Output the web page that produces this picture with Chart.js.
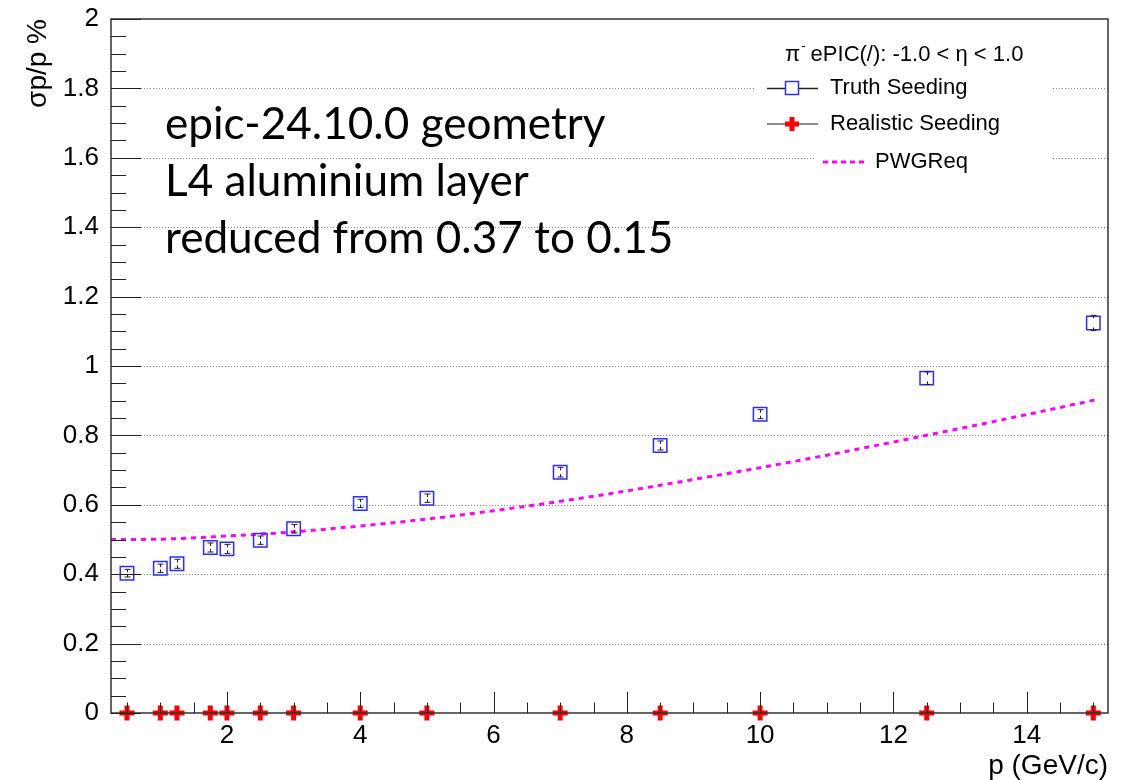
<!DOCTYPE html>
<html>
<head>
<meta charset="utf-8">
<script src="https://cdn.jsdelivr.net/npm/chart.js@4/dist/chart.umd.min.js"></script>
<style>
  html, body { margin: 0; padding: 0; background: #fff; }
  #wrap { width: 1132px; height: 780px; position: relative; }
</style>
</head>
<body>
<div id="wrap"><canvas id="c" width="1132" height="780"></canvas></div>
<script>
// ---------------- data ----------------
const TRUTH_P     = [0.5, 1.0, 1.25, 1.75, 2.0, 2.5, 3.0, 4.0, 5.0, 7.0, 8.5, 10.0, 12.5, 15.0];
const TRUTH_SIGMA = [0.403, 0.417, 0.430, 0.477, 0.473, 0.498, 0.531, 0.604, 0.619, 0.694, 0.771, 0.861, 0.965, 1.124];
const TRUTH_ERR   = [0.011, 0.012, 0.013, 0.013, 0.013, 0.012, 0.012, 0.012, 0.012, 0.014, 0.013, 0.013, 0.018, 0.022];
const REAL_P      = [0.5, 1.0, 1.25, 1.75, 2.0, 2.5, 3.0, 4.0, 5.0, 7.0, 8.5, 10.0, 12.5, 15.0];
const REAL_SIGMA  = [0, 0, 0, 0, 0, 0, 0, 0, 0, 0, 0, 0, 0, 0];
const PWG_P       = [0.26, 1, 2, 3, 4, 5, 6, 7, 8, 9, 10, 11, 12, 13, 14, 15.07];
const PWG_SIGMA   = [0.500, 0.501, 0.510, 0.522, 0.539, 0.559, 0.583, 0.610, 0.640, 0.673, 0.707, 0.743, 0.781, 0.820, 0.860, 0.904];
const X_TICKS     = [2, 4, 6, 8, 10, 12, 14];
const Y_TICKS     = [0, 0.2, 0.4, 0.6, 0.8, 1, 1.2, 1.4, 1.6, 1.8, 2];
const X_RANGE     = [0.26, 15.22];
const Y_RANGE     = [0, 2];
const SERIES_NAMES = ['Truth Seeding', 'Realistic Seeding', 'PWGReq'];
const LEGEND_HEADER = ['π', '-', ' ePIC(/): -1.0 < η < 1.0'];
const NOTE_LINES  = ['epic-24.10.0 geometry', 'L4 aluminium layer', 'reduced from 0.37 to 0.15'];
const X_TITLE = 'p (GeV/c)';
const Y_TITLE = 'σp/p %';

const SANS = '"Liberation Sans", Arial, Helvetica, sans-serif';
const BLUE = '#2d2dff';
const RED = '#ff0000';
const MAGENTA = '#ff00ff';

function pts(xs, ys) { return xs.map((x, i) => ({ x: x, y: ys[i] })); }
function fmt(v) { return String(Math.round(v * 100) / 100); }

// ---------------- plugin: ROOT style frame, ticks, grid, errors, legend, note ----------------
const rootStyle = {
  id: 'rootStyle',
  beforeDatasetsDraw(chart) {
    const { ctx, chartArea: a, scales: { y } } = chart;
    ctx.save();
    ctx.strokeStyle = '#8a8a8a';
    ctx.lineWidth = 1;
    ctx.setLineDash([1, 2]);
    Y_TICKS.forEach(v => {
      if (v <= Y_RANGE[0] || v >= Y_RANGE[1]) return;
      const py = Math.round(y.getPixelForValue(v)) + 0.5;
      ctx.beginPath(); ctx.moveTo(a.left, py); ctx.lineTo(a.right, py); ctx.stroke();
    });
    ctx.restore();
  },
  afterDatasetsDraw(chart) {
    const { ctx, chartArea: a, scales: { x, y } } = chart;
    ctx.save();
    // error bars of truth seeding
    ctx.strokeStyle = '#222';
    ctx.lineWidth = 1;
    TRUTH_P.forEach((p, i) => {
      const px = Math.round(x.getPixelForValue(p)) + 0.5;
      const yt = y.getPixelForValue(TRUTH_SIGMA[i] + TRUTH_ERR[i]);
      const yb = y.getPixelForValue(TRUTH_SIGMA[i] - TRUTH_ERR[i]);
      ctx.beginPath();
      ctx.moveTo(px - 3, yt); ctx.lineTo(px + 3, yt);
      ctx.moveTo(px, yt); ctx.lineTo(px, yt + 3);
      ctx.moveTo(px - 3, yb); ctx.lineTo(px + 3, yb);
      ctx.moveTo(px, yb); ctx.lineTo(px, yb - 3);
      ctx.stroke();
    });
    // frame
    ctx.strokeStyle = '#333';
    ctx.lineWidth = 1.5;
    ctx.strokeRect(a.left, a.top, a.right - a.left, a.bottom - a.top);
    // inner ticks
    ctx.lineWidth = 1;
    ctx.strokeStyle = '#222';
    ctx.beginPath();
    for (let k = 0; k <= 40; k++) {
      const v = Y_RANGE[0] + k * 0.05;
      const py = Math.round(y.getPixelForValue(v)) + 0.5;
      const len = (k % 4 === 0) ? 30 : 15;
      ctx.moveTo(a.left, py); ctx.lineTo(a.left + len, py);
    }
    for (let k = 1; k <= 30; k++) {
      const v = k * 0.5;
      if (v < X_RANGE[0] || v > X_RANGE[1]) continue;
      const px = Math.round(x.getPixelForValue(v)) + 0.5;
      const len = (k % 4 === 0) ? 21 : 10.5;
      ctx.moveTo(px, a.bottom); ctx.lineTo(px, a.bottom - len);
    }
    ctx.stroke();
    ctx.restore();
  },
  afterDraw(chart) {
    const { ctx } = chart;
    ctx.save();
    // legend backgrounds
    ctx.fillStyle = '#fff';
    ctx.fillRect(756, 32, 296, 112);
    ctx.fillRect(815, 144, 236, 34);
    // header
    ctx.fillStyle = '#000';
    ctx.textBaseline = 'middle';
    ctx.textAlign = 'left';
    ctx.font = '22px ' + SANS;
    let hx = 785;
    ctx.fillText(LEGEND_HEADER[0], hx, 55);
    hx += ctx.measureText(LEGEND_HEADER[0]).width;
    ctx.font = '13px ' + SANS;
    ctx.fillText(LEGEND_HEADER[1], hx + 1, 46);
    hx += ctx.measureText(LEGEND_HEADER[1]).width;
    ctx.font = '22px ' + SANS;
    ctx.fillText(LEGEND_HEADER[2], hx, 55);
    // entry 1
    ctx.lineWidth = 1.5;
    ctx.strokeStyle = '#222';
    ctx.beginPath(); ctx.moveTo(767, 88.5); ctx.lineTo(818, 88.5); ctx.stroke();
    ctx.fillStyle = '#fff';
    ctx.fillRect(785.5, 81.5, 13, 13);
    ctx.strokeStyle = BLUE;
    ctx.strokeRect(785.5, 81.5, 13, 13);
    ctx.fillStyle = '#000';
    ctx.fillText(SERIES_NAMES[0], 830, 88);
    // entry 2
    ctx.strokeStyle = '#8c8c8c';
    ctx.lineWidth = 2;
    ctx.beginPath(); ctx.moveTo(767, 124); ctx.lineTo(818, 124); ctx.stroke();
    ctx.strokeStyle = RED;
    ctx.lineWidth = 5;
    ctx.beginPath();
    ctx.moveTo(785, 124); ctx.lineTo(799, 124);
    ctx.moveTo(792, 117); ctx.lineTo(792, 131);
    ctx.stroke();
    ctx.fillText(SERIES_NAMES[1], 830, 124);
    // entry 3
    ctx.strokeStyle = MAGENTA;
    ctx.lineWidth = 3;
    ctx.setLineDash([5, 4]);
    ctx.beginPath(); ctx.moveTo(823, 162); ctx.lineTo(864, 162); ctx.stroke();
    ctx.setLineDash([]);
    ctx.fillText(SERIES_NAMES[2], 875, 162);
    // annotation
    ctx.font = '48px Lato, "Open Sans", sans-serif';
    const w = ctx.measureText(NOTE_LINES[2]).width;
    const fs = 48 * 508 / w;
    ctx.font = fs.toFixed(1) + 'px Lato, "Open Sans", sans-serif';
    ctx.textBaseline = 'alphabetic';
    const base = [139, 196, 253];
    NOTE_LINES.forEach((t, i) => ctx.fillText(t, 165, base[i]));
    ctx.restore();
  }
};

new Chart(document.getElementById('c'), {
  type: 'scatter',
  data: {
    datasets: [
      {
        label: SERIES_NAMES[0],
        data: pts(TRUTH_P, TRUTH_SIGMA),
        showLine: false,
        pointStyle: 'rect',
        pointRadius: 9.5,
        pointHoverRadius: 9.5,
        pointBorderWidth: 1.5,
        borderColor: BLUE,
        backgroundColor: 'rgba(0,0,0,0)',
        clip: false
      },
      {
        label: SERIES_NAMES[1],
        data: pts(REAL_P, REAL_SIGMA),
        showLine: false,
        pointStyle: 'cross',
        pointRadius: 7.5,
        pointHoverRadius: 7.5,
        pointBorderWidth: 5,
        borderColor: RED,
        backgroundColor: RED,
        clip: false
      },
      {
        label: SERIES_NAMES[2],
        data: pts(PWG_P, PWG_SIGMA),
        showLine: true,
        borderColor: MAGENTA,
        borderWidth: 3,
        borderDash: [5, 5],
        pointRadius: 0,
        cubicInterpolationMode: 'monotone',
        fill: false
      }
    ]
  },
  options: {
    responsive: true,
    maintainAspectRatio: false,
    animation: false,
    events: [],
    layout: { padding: { top: 19, right: 24, bottom: 0, left: 0 } },
    plugins: { legend: { display: false }, tooltip: { enabled: false } },
    scales: {
      x: {
        type: 'linear',
        min: X_RANGE[0],
        max: X_RANGE[1],
        afterBuildTicks(s) { s.ticks = X_TICKS.map(v => ({ value: v })); },
        afterFit(s) { s.height = 67; s.paddingLeft = 0; s.paddingRight = 0; },
        grid: { display: false, drawTicks: false },
        border: { display: false },
        ticks: { color: '#000', font: { family: SANS, size: 26 }, padding: 7, maxRotation: 0, autoSkip: false,
                 callback: v => fmt(v) },
        title: { display: true, text: X_TITLE, align: 'end', color: '#000',
                 font: { family: SANS, size: 28, lineHeight: 1 }, padding: { top: 0, bottom: 0 } }
      },
      y: {
        type: 'linear',
        min: Y_RANGE[0],
        max: Y_RANGE[1],
        afterBuildTicks(s) { s.ticks = Y_TICKS.map(v => ({ value: v })); },
        afterFit(s) { s.width = 111; s.paddingTop = 0; s.paddingBottom = 0; },
        grid: { display: false, drawTicks: false },
        border: { display: false },
        ticks: { color: '#000', font: { family: SANS, size: 26 }, padding: 12, autoSkip: false,
                 callback: v => fmt(v) },
        title: { display: true, text: Y_TITLE, align: 'end', color: '#000',
                 font: { family: SANS, size: 28, lineHeight: 1 }, padding: { top: 24, bottom: 0 } }
      }
    }
  },
  plugins: [rootStyle]
});
</script>
</body>
</html>
